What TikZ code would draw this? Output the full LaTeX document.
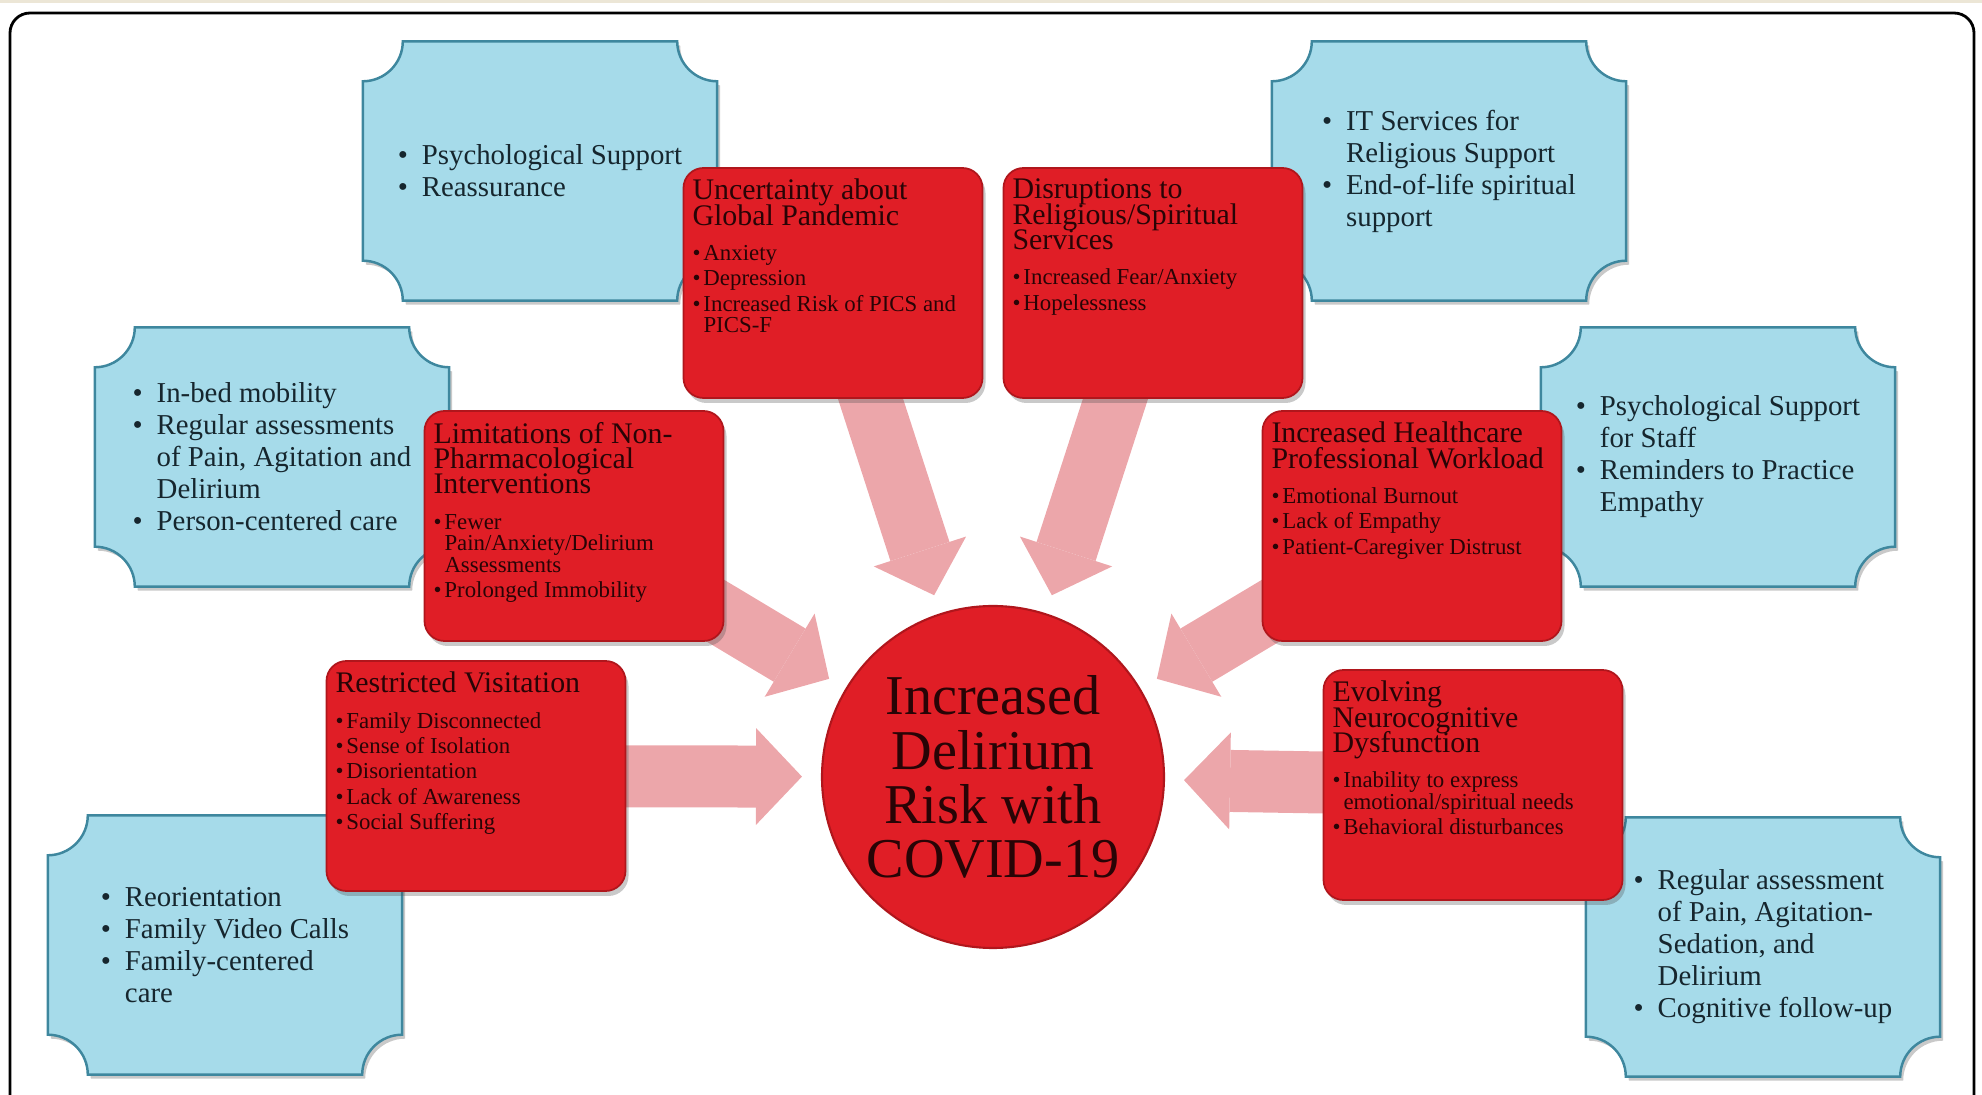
\documentclass[tikz,border=0pt]{standalone}
\usepackage{fontspec}
\setmainfont{Liberation Serif}
\usepackage{xcolor}
\usetikzlibrary{
    arrows.meta,
    shadows,
    backgrounds
}

\definecolor{remedyfill}{RGB}{166,219,234}
\definecolor{remedyline}{RGB}{62,135,158}
\definecolor{remedyink}{RGB}{22,38,46}
\definecolor{causefill}{RGB}{224,30,38}
\definecolor{causeline}{RGB}{176,22,28}
\definecolor{causeink}{RGB}{40,4,6}
\definecolor{flowpink}{RGB}{236,166,170}
\definecolor{stripbeige}{RGB}{236,230,214}

% bullets for the blue and red boxes
\newcommand{\bbul}{\makebox[0.24cm][l]{\textbullet}}
\newcommand{\bcont}{\hspace*{0.24cm}}
\newcommand{\rbul}{\makebox[0.11cm][l]{\textbullet}}
\newcommand{\rcont}{\hspace*{0.11cm}}

% title + bullet list, top aligned inside a red box
\newcommand{\causetext}[2]{%
    \begin{minipage}[c][2.08cm][t]{2.81cm}
        \raggedright\setlength{\lineskiplimit}{-10pt}%
        \fontsize{8.5}{7.2}\selectfont #1\par
        \vspace{2.9pt}%
        \setlength{\parskip}{1.1pt}%
        \fontsize{6.5}{6.1}\selectfont #2\par
    \end{minipage}}

% concave-cornered outline round a named node
\newcommand{\plaque}[1]{%
    \draw[plaque]
        ([xshift=0.4cm]#1.north west) -- ([xshift=-0.4cm]#1.north east)
        arc[start angle=180, end angle=270, radius=0.4cm]
        -- ([yshift=0.4cm]#1.south east)
        arc[start angle=90, end angle=180, radius=0.4cm]
        -- ([xshift=0.4cm]#1.south west)
        arc[start angle=0, end angle=90, radius=0.4cm]
        -- ([yshift=-0.4cm]#1.north west)
        arc[start angle=270, end angle=360, radius=0.4cm]
        -- cycle;}

\begin{document}
\begin{tikzpicture}[
    remedy/.style={
        rectangle,
        minimum width=3.53cm,
        minimum height=2.58cm,
        align=left,
        text=remedyink,
        font=\fontsize{8.2}{9.1}\selectfont
    },
    plaque/.style={
        fill=remedyfill,
        draw=remedyline,
        line width=0.7pt,
        drop shadow={shadow xshift=0.03cm, shadow yshift=-0.04cm,
            opacity=0.3, fill=black!70}
    },
    cause/.style={
        rectangle,
        rounded corners=0.2cm,
        fill=causefill,
        draw=causeline,
        line width=0.5pt,
        minimum width=2.99cm,
        minimum height=2.30cm,
        inner xsep=0.09cm,
        inner ysep=0.11cm,
        text=causeink,
        drop shadow={shadow xshift=0.03cm, shadow yshift=-0.05cm,
            opacity=0.3, fill=black!70}
    },
    risk/.style={
        circle,
        minimum size=3.42cm,
        inner sep=0pt,
        fill=causefill,
        draw=causeline,
        line width=0.6pt,
        align=center,
        text=causeink,
        font=\fontsize{16}{15.4}\selectfont
    },
    flow/.style={
        draw=flowpink,
        line width=0.62cm,
        -{Triangle[length=0.46cm, width=0.97cm, line width=0pt]},
        shorten >=0.19cm
    }
]

\useasboundingbox (0,0) rectangle (19.82,-10.95);

% =========================================================
% Frame
% =========================================================
\fill[stripbeige] (0,0) rectangle (19.82,-0.03);
\draw[line width=0.8pt, rounded corners=0.2cm] (0.10,-0.13) rectangle (19.74,-11.4);

% =========================================================
% Remedies (blue)
% =========================================================
\node[remedy] (psych) at (5.40,-1.71)
{\bbul Psychological Support\\ \bbul Reassurance};

\node[remedy] (faith) at (14.49,-1.71)
{\bbul IT Services for\\ \bcont Religious Support\\
 \bbul End-of-life spiritual\\ \bcont support};

\node[remedy] (mobility) at (2.72,-4.57)
{\bbul In-bed mobility\\ \bbul Regular assessments\\
 \bcont of Pain, Agitation and\\ \bcont Delirium\\
 \bbul Person-centered care};

\node[remedy] (staff) at (17.18,-4.57)
{\bbul Psychological Support\\ \bcont for Staff\\
 \bbul Reminders to Practice\\ \bcont Empathy};

\node[remedy] (family) at (2.25,-9.45)
{\bbul Reorientation\\ \bbul Family Video Calls\\
 \bbul Family-centered\\ \bcont care};

\node[remedy] (followup) at (17.63,-9.47)
{\bbul Regular assessment\\ \bcont of Pain, Agitation-\\
 \bcont Sedation, and\\ \bcont Delirium\\
 \bbul Cognitive follow-up};

\begin{scope}[on background layer]
\plaque{psych}
\plaque{faith}
\plaque{mobility}
\plaque{staff}
\plaque{family}
\plaque{followup}
\end{scope}

% =========================================================
% Causes (red)
% =========================================================
\node[cause] (uncert) at (8.33,-2.83)
{\causetext{Uncertainty about\\Global Pandemic}
 {\rbul Anxiety\par \rbul Depression\par
  \rbul Increased Risk of PICS and\\ \rcont PICS-F}};

\node[cause] (spirit) at (11.53,-2.83)
{\causetext{Disruptions to\\Religious/Spiritual\\Services}
 {\rbul Increased Fear/Anxiety\par \rbul Hopelessness}};

\node[cause] (nonpharm) at (5.74,-5.26)
{\causetext{Limitations of Non-\\Pharmacological\\Interventions}
 {\rbul Fewer\\ \rcont Pain/Anxiety/Delirium\\ \rcont Assessments\par
  \rbul Prolonged Immobility}};

\node[cause] (workload) at (14.12,-5.26)
{\causetext{Increased Healthcare\\Professional Workload}
 {\rbul Emotional Burnout\par \rbul Lack of Empathy\par
  \rbul Patient-Caregiver Distrust}};

\node[cause] (visit) at (4.76,-7.76)
{\causetext{Restricted Visitation}
 {\rbul Family Disconnected\par \rbul Sense of Isolation\par
  \rbul Disorientation\par \rbul Lack of Awareness\par
  \rbul Social Suffering}};

\node[cause] (neuro) at (14.73,-7.85)
{\causetext{Evolving\\Neurocognitive\\Dysfunction}
 {\rbul Inability to express\\ \rcont emotional/spiritual needs\par
  \rbul Behavioral disturbances}};

% =========================================================
% Centre
% =========================================================
\node[risk] (delirium) at (9.93,-7.77)
{Increased\\Delirium\\Risk with\\COVID-19};

% =========================================================
% Arrows into the centre
% =========================================================
\begin{scope}[on background layer]
\draw[flow] (uncert.center) -- (delirium);
\draw[flow] (spirit.center) -- (delirium);
\draw[flow] (nonpharm.center) -- (delirium);
\draw[flow] (workload.center) -- (delirium);
\draw[flow] (visit.center) -- (delirium);
\draw[flow] (neuro.center) -- (delirium);
\end{scope}

\end{tikzpicture}
\end{document}
